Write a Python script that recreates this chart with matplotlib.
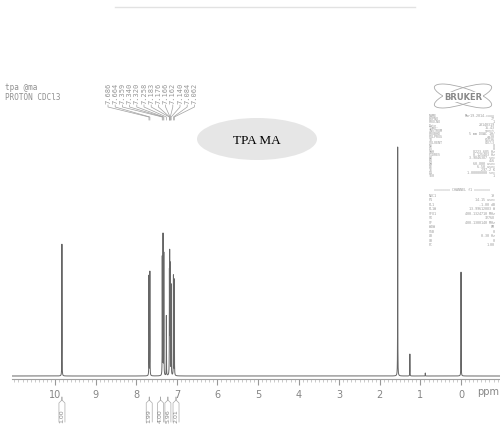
import matplotlib
matplotlib.use("Agg")
import matplotlib.pyplot as plt
from matplotlib.patches import Ellipse
import numpy as np

# peaks (ppm, height above baseline)
peak_ppm = [9.83, 7.686, 7.664, 7.359, 7.340, 7.320, 7.258, 7.183, 7.176, 7.166, 7.162, 7.140,
            7.084, 7.062, 1.56, 1.26, 0.88, 0.00]
peak_height = [132, 100, 104, 118, 140, 122, 60, 95, 112, 90, 70, 90,
               100, 96, 229, 22, 3, 104]

label_values = ["7.686", "7.664", "7.359", "7.340", "7.320", "7.258", "7.183",
                "7.176", "7.166", "7.162", "7.140", "7.084", "7.062"]

integ_ppm = [9.83, 7.68, 7.40, 7.22, 7.02]
integ_values = ["1.00", "1.99", "4.00", "5.96", "2.01"]

params_1 = [("NAME", "Mar19-2014-cxxx"), ("EXPNO", "77"), ("PROCNO", "1"), ("Date_", "20140319"),
            ("Time", "16.43"), ("INSTRUM", "spect"), ("PROBHD", "5 mm DUAL 1H/"),
            ("PULPROG", "zg30"), ("TD", "65536"), ("SOLVENT", "CDCl3"), ("NS", "8"), ("DS", "0"),
            ("SWH", "8223.685 Hz"), ("FIDRES", "0.125483 Hz"), ("AQ", "3.9846387 sec"),
            ("RG", "456"), ("DW", "60.800 usec"), ("DE", "6.50 usec"), ("TE", "297.2 K"),
            ("D1", "1.00000000 sec"), ("TD0", "1")]
params_2 = [("NUC1", "1H"), ("P1", "14.15 usec"), ("PL1", "-1.00 dB"), ("PL1W", "13.99612083 W"),
            ("SFO1", "400.1324710 MHz"), ("SI", "32768"), ("SF", "400.1300140 MHz"),
            ("WDW", "EM"), ("SSB", "0"), ("LB", "0.30 Hz"), ("GB", "0"), ("PC", "1.00")]

fig = plt.figure(figsize=(5, 4.27), dpi=100)
fig.patch.set_facecolor("white")

ax = fig.add_axes([12 / 500, 47 / 427, 488 / 500, 280 / 427])
ppm = np.linspace(11.1, -1.0, 60000)
w = 0.0022
spec = np.zeros_like(ppm)
for p, h in zip(peak_ppm, peak_height):
    spec += h / (1 + ((ppm - p) / w) ** 2)
ax.plot(ppm, spec, color="#666666", lw=0.7)
ax.set_xlim(11.06, -0.96)
ax.set_ylim(-3, 277)
for s in ["top", "left", "right"]:
    ax.spines[s].set_visible(False)
ax.spines["bottom"].set_color("#a0a0a0")
ax.spines["bottom"].set_linewidth(0.8)
ax.set_yticks([])
ax.set_xticks(range(0, 11))
ax.set_xticks(np.arange(-0.9, 11.05, 0.1), minor=True)
ax.tick_params(axis="x", which="major", length=4, color="#999999", labelsize=7,
               labelcolor="#858585", pad=3)
ax.tick_params(axis="x", which="minor", length=2, color="#b5b5b5", width=0.5)
ax.set_facecolor("none")

# overlay in pixel coordinates
ov = fig.add_axes([0, 0, 1, 1], zorder=-1)
ov.set_xlim(0, 500)
ov.set_ylim(427, 0)
ov.axis("off")

def px(v):
    return ax.transData.transform((v, 0))[0]

ov.text(488, 392, "ppm", fontsize=7, color="#858585", ha="center", va="center")

# header texts
ov.plot([115, 415], [8, 8], color="#e2e2e2", lw=1)
ov.text(5, 88, "tpa @ma", family="DejaVu Sans Mono", fontsize=5.5, color="#909090", va="center")
ov.text(5, 97, "PROTON CDCl3", family="DejaVu Sans Mono", fontsize=5.5, color="#909090", va="center")

# peak labels and fan lines
for i, lab in enumerate(label_values):
    lx = 108 + i * 7.2
    ov.text(lx, 104, lab, rotation=90, family="DejaVu Sans Mono", fontsize=5,
            color="#959595", ha="center", va="bottom")
    tx = px(float(lab))
    ov.plot([lx, lx, tx, tx], [106, 108, 118, 121], color="#a0a0a0", lw=0.5)

# sample name
ov.add_patch(Ellipse((257, 140), 120, 42, fc="#e6e6e6", ec="none"))
ov.text(257, 141, "TPA MA", family="Liberation Serif", fontsize=9.5, color="black",
        ha="center", va="center")

# bruker logo
for ang in (18, -18):
    ov.add_patch(Ellipse((463, 97), 60, 16, angle=ang, fc="none", ec="#aaaaaa", lw=0.6))
ov.text(463, 98, "BRUKER", fontsize=6, fontweight="bold", color="#888888",
        ha="center", va="center", bbox=dict(fc="white", ec="none", pad=0.5))

# acquisition parameters
y = 116
for k, v in params_1:
    ov.text(429, y, k, family="DejaVu Sans Mono", fontsize=2.4, color="#9a9a9a", va="center")
    ov.text(495, y, v, family="DejaVu Sans Mono", fontsize=2.4, color="#9a9a9a", va="center", ha="right")
    y += 3.0
ov.text(462, 190, "======== CHANNEL f1 ========", family="DejaVu Sans Mono", fontsize=2.4,
        color="#9a9a9a", ha="center", va="center")
y = 196
for k, v in params_2:
    ov.text(429, y, k, family="DejaVu Sans Mono", fontsize=2.4, color="#9a9a9a", va="center")
    ov.text(495, y, v, family="DejaVu Sans Mono", fontsize=2.4, color="#9a9a9a", va="center", ha="right")
    y += 4.5

# integrals
for p, v in zip(integ_ppm, integ_values):
    x = px(p)
    ov.text(x, 423, v, rotation=90, fontsize=4.5, color="#888888", ha="center", va="bottom")
    ov.plot([x - 3, x - 3, x, x, x, x + 3, x + 3], [423, 404, 401, 398, 401, 404, 423],
            color="#aaaaaa", lw=0.5)

fig.savefig("out.png", dpi=100)
